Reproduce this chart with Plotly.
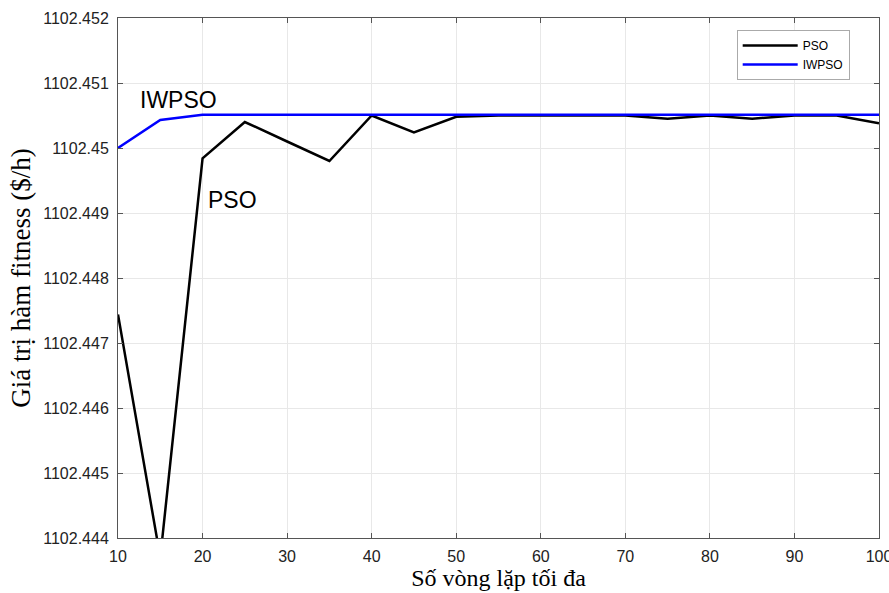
import plotly.graph_objects as go

iterations = [10, 15, 20, 25, 30, 35, 40, 45, 50, 55, 60, 65, 70, 75, 80, 85, 90, 95, 100]
pso = [1102.44744, 1102.44370, 1102.44984, 1102.45040, 1102.45010, 1102.44980, 1102.45050,
       1102.45024, 1102.45048, 1102.45050, 1102.45050, 1102.45050, 1102.45050, 1102.45045,
       1102.45050, 1102.45045, 1102.45050, 1102.45050, 1102.45038]
iwpso = [1102.45000, 1102.45043, 1102.45051, 1102.45051, 1102.45051, 1102.45051, 1102.45051,
         1102.45051, 1102.45051, 1102.45051, 1102.45051, 1102.45051, 1102.45051, 1102.45051,
         1102.45051, 1102.45051, 1102.45051, 1102.45051, 1102.45051]
y_ticks = [1102.444, 1102.445, 1102.446, 1102.447, 1102.448, 1102.449, 1102.45, 1102.451, 1102.452]
y_tick_labels = ["1102.444", "1102.445", "1102.446", "1102.447", "1102.448", "1102.449", "1102.45", "1102.451", "1102.452"]
x_ticks = [10, 20, 30, 40, 50, 60, 70, 80, 90, 100]

fig = go.Figure()
fig.add_trace(go.Scatter(x=iterations, y=pso, mode="lines", name="PSO",
                         line=dict(color="black", width=2.5)))
fig.add_trace(go.Scatter(x=iterations, y=iwpso, mode="lines", name="IWPSO",
                         line=dict(color="#0000ff", width=2.5)))

sans = "Liberation Sans, Arial, Helvetica, sans-serif"
serif = "Liberation Serif, Times New Roman, serif"

fig.add_annotation(x=12.4, y=1102.45074, xref="x", yref="y", text="IWPSO", showarrow=False,
                   xanchor="left", yanchor="middle", font=dict(family=sans, size=23, color="black"))
fig.add_annotation(x=20.4, y=1102.4492, xref="x", yref="y", text="PSO", showarrow=False,
                   xanchor="left", yanchor="middle", font=dict(family=sans, size=23, color="black"))

fig.update_layout(
    width=889, height=593,
    margin=dict(l=118, r=10, t=18, b=55),
    paper_bgcolor="white", plot_bgcolor="white",
    font=dict(family=sans, size=16, color="#222222"),
    showlegend=True,
    legend=dict(x=0.813, y=0.977, xanchor="left", yanchor="top",
                bgcolor="white", bordercolor="#aaaaaa", borderwidth=1,
                font=dict(family=sans, size=12, color="black"),
                itemwidth=55, tracegroupgap=0),
    xaxis=dict(range=[10, 100], tickmode="array", tickvals=x_ticks, automargin=False,
               showgrid=True, gridcolor="#e8e8e8", gridwidth=1,
               showline=True, linecolor="#555555", linewidth=1, mirror="ticks",
               ticks="inside", ticklen=5, tickcolor="#555555", ticklabelstandoff=4,
               ticklabeloverflow="allow",
               tickfont=dict(family=sans, size=16, color="#222222"),
               title=dict(text="Số vòng lặp tối đa", font=dict(family=serif, size=24, color="black"), standoff=2),
               zeroline=False),
    yaxis=dict(range=[1102.444, 1102.452], tickmode="array", tickvals=y_ticks, ticktext=y_tick_labels,
               automargin=False,
               showgrid=True, gridcolor="#e8e8e8", gridwidth=1,
               showline=True, linecolor="#555555", linewidth=1, mirror="ticks",
               ticks="inside", ticklen=5, tickcolor="#555555", ticklabelstandoff=5,
               ticklabeloverflow="allow",
               tickfont=dict(family=sans, size=16, color="#222222"),
               title=dict(text="Giá trị hàm fitness ($/h)", font=dict(family=serif, size=27, color="black"), standoff=4),
               zeroline=False),
)

fig.write_html("out.html", config={"displayModeBar": False},
               post_script="document.body.style.margin='0';")
